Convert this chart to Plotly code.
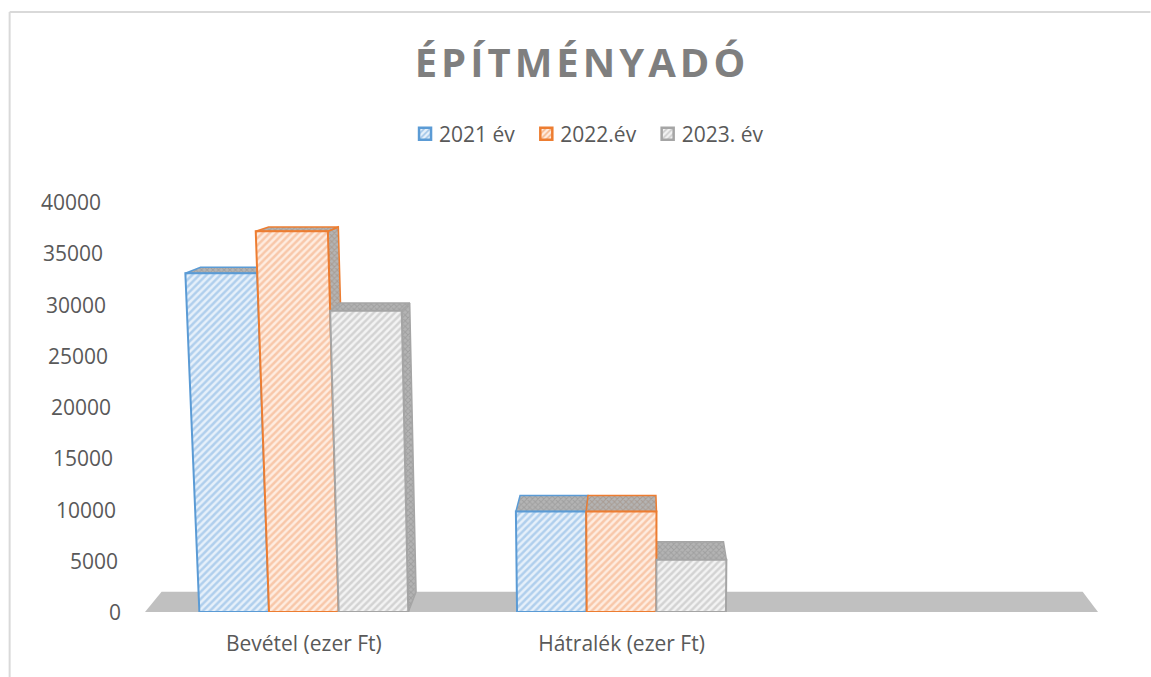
import plotly.graph_objects as go

categories = ["Bevétel (ezer Ft)", "Hátralék (ezer Ft)"]
series_names = ["2021 év", "2022.év", "2023. év"]
values_2021 = [33050, 9800]
values_2022 = [37150, 9800]
values_2023 = [29400, 5100]
y_ticks = [0, 5000, 10000, 15000, 20000, 25000, 30000, 35000, 40000]

series = [values_2021, values_2022, values_2023]
edge = ["#5B9BD5", "#ED7D31", "#A5A5A5"]
hatch_fg = ["#7AADE0", "#F2A272", "#B4B4B4"]
hatch_bg = ["#E6F0FA", "#FEECE0", "#F3F3F3"]
roof_fg = ["#8A8A8A", "#9C8270", "#8A8A8A"]

W, H = 1151, 677
L, R, T, B = 144.5, 1098.5, 202, 612
BAR = 0.2192
VP_X, VP_Y = 1.058, 47000
LEAN, DEPTH_X, DEPTH_Y = 9.635e-7, 0.0335, 0.042
FONT = "Open Sans"
TEXT_SIZE = 21


def front(x, v):
    return x - (VP_X - x) * LEAN * v, v


def back(x, v):
    fx, fy = front(x, v)
    return fx + (VP_X - fx) * DEPTH_X, fy + (VP_Y - fy) * DEPTH_Y


def poly(points, fg, bg, line, shape, size, solidity, lw=2, name=None):
    return go.Scatter(
        x=[p[0] for p in points] + [points[0][0]],
        y=[p[1] for p in points] + [points[0][1]],
        mode="lines", fill="toself", cliponaxis=False, showlegend=False,
        line=dict(color=line, width=lw), hoverinfo="skip", name=name,
        fillpattern=dict(shape=shape, fgcolor=fg, bgcolor=bg, size=size, solidity=solidity),
    )


fig = go.Figure()

# floor
fx0, fx1 = -0.5, 2.5
floor = [front(fx0, 0), front(fx1, 0), back(fx1, 0), back(fx0, 0)]
fig.add_trace(go.Scatter(
    x=[p[0] for p in floor] + [floor[0][0]], y=[p[1] for p in floor] + [floor[0][1]],
    mode="lines", fill="toself", fillcolor="#C0C0C0", line=dict(width=0),
    showlegend=False, hoverinfo="skip", cliponaxis=False))

for c in range(len(categories)):
    for s, vals in enumerate(series):
        v = vals[c]
        x0 = c + (s - 1.5) * BAR
        x1 = x0 + BAR
        # side face only where it can be seen (bars left of the vanishing point)
        if x1 < VP_X:
            fig.add_trace(poly([front(x1, 0), back(x1, 0), back(x1, v), front(x1, v)],
                               roof_fg[s], "#B4B4B4", edge[s], "x", 4, 0.45, 1.5))
        fig.add_trace(poly([front(x0, v), front(x1, v), back(x1, v), back(x0, v)],
                           roof_fg[s], "#B4B4B4", edge[s], "x", 4, 0.45, 1.5))
    for s, vals in enumerate(series):
        v = vals[c]
        x0 = c + (s - 1.5) * BAR
        x1 = x0 + BAR
        fig.add_trace(poly([front(x0, 0), front(x1, 0), front(x1, v), front(x0, v)],
                           hatch_fg[s], hatch_bg[s], edge[s], "/", 5, 0.5, 2, series_names[s]))

# legend entries
for s, name in enumerate(series_names):
    fig.add_trace(go.Bar(
        x=[None], y=[None], name=name,
        marker=dict(color=hatch_bg[s], line=dict(color=edge[s], width=2.5),
                    pattern=dict(shape="/", fgcolor=edge[s], bgcolor=hatch_bg[s], size=5, solidity=0.4))))

annotations = []
base_x = -0.5 - (144.5 - 122) / 318
for t in y_ticks:
    annotations.append(dict(
        x=(front(base_x, t)[0] + 0.5) / 3, y=t / 40000, xref="paper", yref="paper",
        text=str(t), showarrow=False, xanchor="right", yanchor="middle",
        font=dict(family=FONT, size=TEXT_SIZE, color="#595959")))

px = lambda p: (p - L) / (R - L)
py = lambda p: (B - p) / (B - T)
border = dict(color="#D9D9D9", width=2)

fig.update_layout(
    width=W, height=H, autosize=False,
    margin=dict(l=L, r=W - R, t=T, b=H - B, pad=0),
    paper_bgcolor="white", plot_bgcolor="rgba(0,0,0,0)",
    font=dict(family=FONT, size=TEXT_SIZE, color="#595959"),
    title=dict(text="<b>ÉPÍTMÉNYADÓ</b>", x=582 / W, xanchor="center", y=1 - 63 / H, yanchor="middle",
               font=dict(family=FONT, size=40, color="#7F7F7F")),
    legend=dict(orientation="h", x=px(584), xanchor="center", y=py(134), yanchor="middle",
                font=dict(family=FONT, size=TEXT_SIZE, color="#595959"), bgcolor="rgba(0,0,0,0)",
                itemclick=False, itemdoubleclick=False),
    xaxis=dict(range=[-0.5, 2.5], tickmode="array", tickvals=[0, 1], ticktext=categories,
               showgrid=False, zeroline=False, showline=False, ticks="", fixedrange=True,
               ticklabelstandoff=17, tickfont=dict(family=FONT, size=TEXT_SIZE, color="#595959")),
    yaxis=dict(range=[0, 40000], showgrid=False, zeroline=False, showline=False, ticks="",
               showticklabels=False, fixedrange=True),
    annotations=annotations,
    shapes=[
        dict(type="line", xref="paper", yref="paper", x0=px(9), x1=px(9), y0=py(12), y1=py(677), line=border, layer="below"),
        dict(type="line", xref="paper", yref="paper", x0=px(9), x1=px(1151), y0=py(12), y1=py(12), line=border, layer="below"),
    ],
)

css = ("var s=document.createElement('style');"
       "s.textContent='html,body{margin:0;padding:0;overflow:hidden}.gtitle{letter-spacing:4px}"
       ".legendsymbols{transform:translateX(6px)}';"
       "document.head.appendChild(s);")
fig.write_html("out.html", post_script=css, config=dict(displayModeBar=False))
